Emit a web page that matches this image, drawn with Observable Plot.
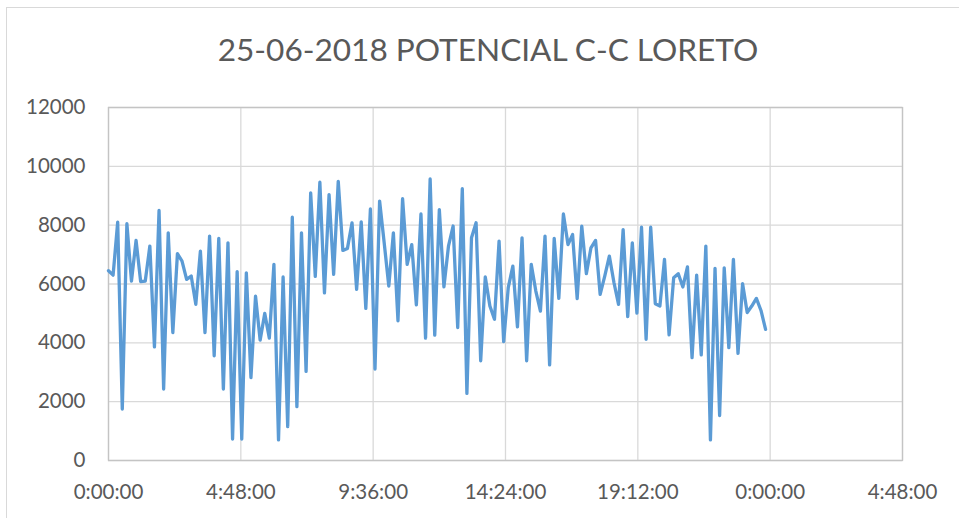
<!DOCTYPE html>
<html>
<head>
<meta charset="utf-8">
<script src="https://cdn.jsdelivr.net/npm/d3@7"></script>
<script src="https://cdn.jsdelivr.net/npm/@observablehq/plot@0.6"></script>
<style>
  html, body { margin: 0; padding: 0; background: #fff; }
  #wrap { position: relative; width: 959px; height: 518px; overflow: hidden; font-family: Lato, "Open Sans", sans-serif; }
  #border { position: absolute; left: 6px; top: 7px; width: 1000px; height: 600px; border: 1.5px solid #d9d9d9; box-sizing: border-box; }
  #title { position: absolute; left: 488px; top: 34px; transform: translateX(-50%); white-space: nowrap; font-size: 31.6px; line-height: 1; color: #595959; }
  #chart { position: absolute; left: 0; top: 85px; }
</style>
</head>
<body>
<div id="wrap">
  <div id="border"></div>
  <div id="title"></div>
  <div id="chart"></div>
</div>
<script>
const titleText = "25-06-2018 POTENCIAL C-C LORETO";
// sample every 10 minutes starting at 0:00:00
const stepMinutes = 10;
const values = [
  6450, 6300, 8100, 1750, 8050, 6100, 7480, 6080, 6100, 7290,
  3860, 8500, 2430, 7740, 4350, 7030, 6780, 6160, 6270, 5310,
  7120, 4350, 7630, 3560, 7550, 2430, 7400, 730, 6420, 730,
  6380, 2820, 5590, 4090, 5000, 4160, 6670, 700, 6240, 1150,
  8270, 1830, 7740, 3030, 9100, 6260, 9460, 5700, 9040, 6330,
  9490, 7140, 7210, 8080, 5820, 8110, 5170, 8550, 3110, 8820,
  7400, 5930, 7740, 4750, 8900, 6670, 7340, 5290, 8380, 4160,
  9570, 4260, 8530, 5900, 7300, 7970, 4520, 9240, 2280, 7570,
  8080, 3390, 6240, 5250, 4800, 7460, 4040, 5880, 6610, 4540,
  7570, 3390, 6670, 5760, 5080, 7630, 3250, 7550, 5510, 8380,
  7340, 7680, 5500, 7970, 6350, 7230, 7480, 5650, 6270, 6950,
  6050, 5310, 7850, 4890, 7400, 5010, 7930, 4120, 7930, 5330,
  5250, 6840, 4270, 6210, 6350, 5900, 6580, 3500, 6300, 3590,
  7290, 700, 6530, 1530, 6550, 3840, 6840, 3640, 6010, 5030,
  5250, 5510, 5100, 4460
];
const xTicks = [0, 4.8, 9.6, 14.4, 19.2, 24, 28.8]; // hours
const xTickLabels = ["0:00:00", "4:48:00", "9:36:00", "14:24:00", "19:12:00", "0:00:00", "4:48:00"];
const yTicks = [0, 2000, 4000, 6000, 8000, 10000, 12000];

const data = values.map((v, i) => ({ h: i * stepMinutes / 60, v }));

document.getElementById("title").textContent = titleText;

const chart = Plot.plot({
  width: 959,
  height: 433,
  marginLeft: 108,
  marginRight: 57,
  marginTop: 22,
  marginBottom: 58,
  style: { fontFamily: "Lato, 'Open Sans', sans-serif", fontSize: "20.5px", color: "#595959", background: "transparent" },
  x: { domain: [0, 28.8] },
  y: { domain: [0, 12000] },
  marks: [
    Plot.ruleY(yTicks, { stroke: "#d9d9d9", strokeWidth: 1.3 }),
    Plot.ruleX(xTicks, { stroke: "#d9d9d9", strokeWidth: 1.3 }),
    Plot.frame({ stroke: "#c4c4c4", strokeWidth: 1.3 }),
    Plot.line(data, { x: "h", y: "v", stroke: "#5b9bd5", strokeWidth: 3.3, strokeLinejoin: "round", strokeLinecap: "round" }),
    Plot.axisY({ ticks: yTicks, tickSize: 0, tickPadding: 23, label: null, tickFormat: d => String(d) }),
    Plot.axisX({ ticks: xTicks, tickSize: 0, tickPadding: 24, label: null, tickFormat: d => xTickLabels[xTicks.indexOf(d)] })
  ]
});
document.getElementById("chart").appendChild(chart);
</script>
</body>
</html>
